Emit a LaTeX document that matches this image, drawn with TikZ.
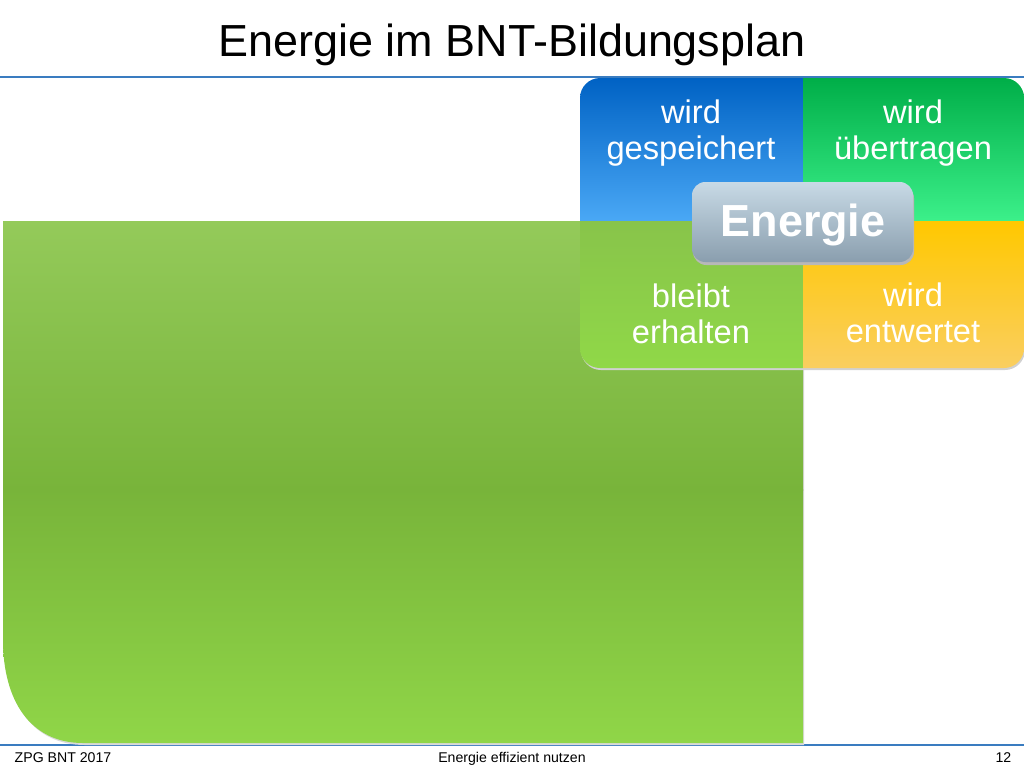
\documentclass[tikz,border=0pt]{standalone}
\usepackage{fontspec}
\setmainfont{Liberation Sans}
\usetikzlibrary{positioning}
\definecolor{barblue}{HTML}{3A7CC0}
\definecolor{panelA}{HTML}{94CA5A}
\definecolor{panelB}{HTML}{78B43A}
\definecolor{panelC}{HTML}{90D648}
\definecolor{blueA}{HTML}{0062C4}
\definecolor{blueB}{HTML}{1372D2}
\definecolor{blueC}{HTML}{4AA8F5}
\definecolor{greenA}{HTML}{00AE48}
\definecolor{greenB}{HTML}{10BA58}
\definecolor{greenC}{HTML}{3CF08A}
\definecolor{limeA}{HTML}{88C44A}
\definecolor{limeC}{HTML}{90D848}
\definecolor{orangeA}{HTML}{FFC800}
\definecolor{orangeB}{HTML}{E8A810}
\definecolor{orangeC}{HTML}{FACE60}
\definecolor{greyA}{HTML}{C8DAE6}
\definecolor{greyC}{HTML}{8A9EAE}

\begin{document}
\begin{tikzpicture}[x=0.75pt,y=-0.75pt]
\tikzset{quad/.style={text=white,align=center,font=\fontsize{24.5}{27}\selectfont},
foot/.style={anchor=base,font=\fontsize{10.6}{12}\selectfont}}
\useasboundingbox (0,0) rectangle (1024,768);

\node (title) at (512,45) {\fontsize{33.7}{36}\selectfont Energie im BNT-Bildungsplan};
\draw[barblue,line width=1.5pt] (0,77) -- (1024,77);
\draw[barblue,line width=1.5pt] (0,745) -- (1024,745);

% big green panel
\fill[black!15] (4,224) -- (804,224) -- (804,745) -- (85,745) .. controls (32,745) and (4,702) .. (4,642) -- cycle;
\begin{scope}
\clip (3,221) -- (803,221) -- (803,743) -- (83,743) .. controls (30,743) and (3,700) .. (3,640) -- cycle;
\shade[top color=panelA,bottom color=panelB] (0,220) rectangle (804,490);
\shade[top color=panelB,bottom color=panelC] (0,489) rectangle (804,744);
\end{scope}

% quadrants
\fill[black!18,rounded corners=15] (581,80) rectangle (1025,370);
\begin{scope}
\clip[rounded corners=15] (580,78) rectangle (1024,368);
\shade[top color=blueA,middle color=blueB,bottom color=blueC] (580,78) rectangle (803,221);
\shade[top color=greenA,middle color=greenB,bottom color=greenC] (803,78) rectangle (1024,221);
\shade[top color=limeA,bottom color=limeC] (580,221) rectangle (803,368);
\shade[top color=orangeA,middle color=orangeB,bottom color=orangeC] (803,221) rectangle (1024,368);
\end{scope}
\node[quad] (stored) at (691,133) {wird\\gespeichert};
\node[quad] (passed) at (913,133) {wird\\übertragen};
\node[quad] (kept) at (691,314) {bleibt\\erhalten};
\node[quad] (lost) at (913,313) {wird\\entwertet};

% Energie box
\fill[black!28,rounded corners=10] (693,185) rectangle (914,265);
\shade[top color=greyA,bottom color=greyC,rounded corners=10] (692,182) rectangle (913,262);
\node[text=white,font=\bfseries\fontsize{33.7}{36}\selectfont] (energy) at (803,225) {Energie};

\node[foot,anchor=base west] (left) at (10,762) {ZPG BNT 2017};
\node[foot] (middle) at (512,762) {Energie effizient nutzen};
\node[foot,anchor=base east] (right) at (1016,762) {12};
\end{tikzpicture}
\end{document}
